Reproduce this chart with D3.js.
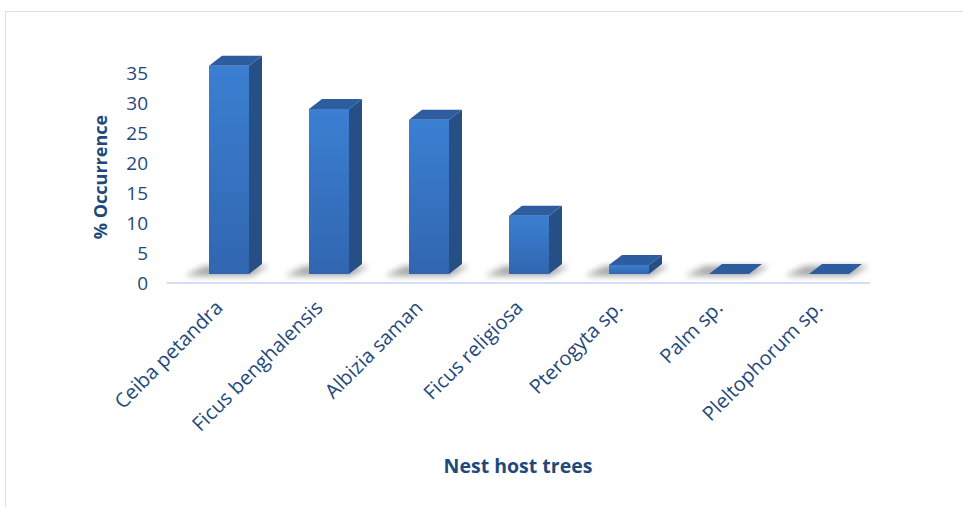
<!DOCTYPE html>
<html>
<head>
<meta charset="utf-8">
<script src="https://cdn.jsdelivr.net/npm/d3@7"></script>
<style>
  body { margin: 0; background: #fff; }
  text { font-family: "Open Sans", sans-serif; fill: #1f497d; }
</style>
</head>
<body>
<div id="chart"></div>
<script>
const trees = ["Ceiba petandra", "Ficus benghalensis", "Albizia saman", "Ficus religiosa",
  "Pterogyta sp.", "Palm sp.", "Pleltophorum sp."];
const occurrence = [34.7, 27.5, 25.7, 9.7, 1.5, 0, 0];
const yTicks = [0, 5, 10, 15, 20, 25, 30, 35];

const width = 963, height = 507;
const lift = 9;      // front face sits above the axis line
const depth = { x: 13, y: 10 };
const barW = 40;

const svg = d3.select("#chart").append("svg")
  .attr("width", width)
  .attr("height", height);

// chart border (only top and left visible)
svg.append("rect")
  .attr("x", 5.5).attr("y", 11.5)
  .attr("width", 1000).attr("height", 600)
  .attr("fill", "none")
  .attr("stroke", "#d6dfee");

const defs = svg.append("defs");
const grad = defs.append("linearGradient")
  .attr("id", "front").attr("x1", 0).attr("y1", 0).attr("x2", 0).attr("y2", 1);
grad.append("stop").attr("offset", "0%").attr("stop-color", "#3b7fd2");
grad.append("stop").attr("offset", "100%").attr("stop-color", "#3166b0");

defs.append("filter").attr("id", "blur")
  .attr("x", "-50%").attr("y", "-50%").attr("width", "200%").attr("height", "200%")
  .append("feGaussianBlur").attr("stdDeviation", 3);

const x = d3.scaleBand().domain(trees).range([179, 879]);
const y = d3.scaleLinear().domain([0, 35]).range([283, 73]);

// axis line
svg.append("line")
  .attr("x1", x.range()[0] - 12).attr("x2", x.range()[1] - 9)
  .attr("y1", y(0)).attr("y2", y(0))
  .attr("stroke", "#d3def3").attr("stroke-width", 2);

// y axis labels
const yAxis = svg.append("g")
  .attr("transform", "translate(148,0)")
  .call(d3.axisLeft(y).tickValues(yTicks).tickSize(0).tickPadding(0));
yAxis.select(".domain").remove();
yAxis.selectAll("text")
  .style("font-size", "19px")
  .style("font-family", "'Open Sans', sans-serif")
  .attr("fill", "#1f497d");

const data = trees.map((t, i) => ({ tree: t, value: occurrence[i] }));

const bars = svg.selectAll(".bar")
  .data(data)
  .enter()
  .append("g")
  .attr("class", "bar");

// floor shadows
bars.append("path")
  .attr("d", d => {
    const cx = x(d.tree) + x.bandwidth() / 2;
    const yb = y(0) - lift;
    return `M${cx - 44},${yb + 2} L${cx + 22},${yb + 2} L${cx + 40},${yb - 8} L${cx - 24},${yb - 8} Z`;
  })
  .attr("fill", "#8f8f8f")
  .attr("opacity", 0.8)
  .attr("filter", "url(#blur)");

// front face
bars.append("rect")
  .attr("x", d => x(d.tree) + x.bandwidth() / 2 - barW / 2)
  .attr("y", d => y(d.value) - lift)
  .attr("width", barW)
  .attr("height", d => y(0) - y(d.value))
  .attr("fill", "url(#front)");

// side face
bars.append("path")
  .attr("d", d => {
    const x1 = x(d.tree) + x.bandwidth() / 2 + barW / 2;
    const yt = y(d.value) - lift, yb = y(0) - lift;
    return `M${x1},${yt} L${x1 + depth.x},${yt - depth.y} L${x1 + depth.x},${yb - depth.y} L${x1},${yb} Z`;
  })
  .attr("fill", "#264f86");

// top face
bars.append("path")
  .attr("d", d => {
    const x0 = x(d.tree) + x.bandwidth() / 2 - barW / 2;
    const yt = y(d.value) - lift;
    return `M${x0},${yt} L${x0 + depth.x},${yt - depth.y} L${x0 + barW + depth.x},${yt - depth.y} L${x0 + barW},${yt} Z`;
  })
  .attr("fill", "#2d5d9f");

// category labels
svg.selectAll(".cat")
  .data(trees)
  .enter()
  .append("text")
  .attr("class", "cat")
  .attr("transform", d => `translate(${x(d) + x.bandwidth() / 2 - 5},${y(0) + 26}) rotate(-45)`)
  .attr("text-anchor", "end")
  .style("font-size", "20px")
  .text(d => d);

// axis titles
svg.append("text")
  .attr("transform", "translate(107,177) rotate(-90)")
  .attr("text-anchor", "middle")
  .style("font-size", "18px")
  .style("font-weight", "bold")
  .text("% Occurrence");

svg.append("text")
  .attr("x", 518).attr("y", 473)
  .attr("text-anchor", "middle")
  .style("font-size", "19.5px")
  .style("font-weight", "bold")
  .text("Nest host trees");
</script>
</body>
</html>
